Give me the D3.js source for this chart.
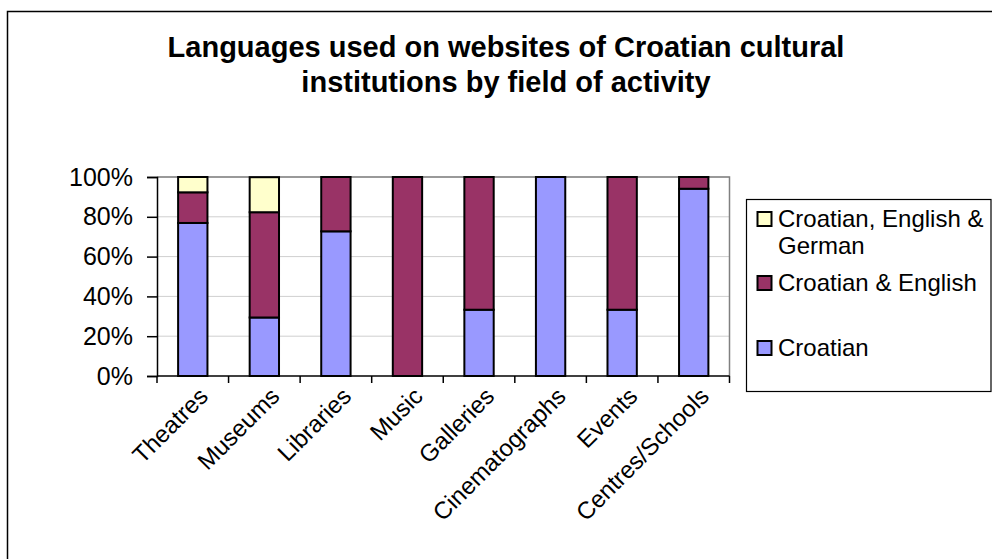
<!DOCTYPE html>
<html>
<head>
<meta charset="utf-8">
<script src="https://cdn.jsdelivr.net/npm/d3@7"></script>
<style>
  body { margin: 0; background: #fff; }
  svg { display: block; font-family: Arial, "Liberation Sans", sans-serif; }
</style>
</head>
<body>
<svg id="chart" width="992" height="559"></svg>
<script>
const categories = ["Theatres", "Museums", "Libraries", "Music", "Galleries", "Cinematographs", "Events", "Centres/Schools"];
const seriesNames = ["Croatian", "Croatian & English", "Croatian, English & German"];
const croatian = [76.9, 29.4, 72.7, 0, 33.3, 100, 33.3, 94.1];
const croatianEnglish = [15.4, 52.9, 27.3, 100, 66.7, 0, 66.7, 5.9];
const croatianEnglishGerman = [7.7, 17.6, 0, 0, 0, 0, 0, 0];
const yTicks = [0, 20, 40, 60, 80, 100];
const titleLines = ["Languages used on websites of Croatian cultural", "institutions by field of activity"];
const colors = ["#9999FF", "#993366", "#FFFFCC"];

const svg = d3.select("#chart");

// outer chart border
svg.append("rect").attr("x", 7.5).attr("y", 11.5).attr("width", 1100).attr("height", 700)
  .attr("fill", "none").attr("stroke", "#000").attr("stroke-width", 1.5);

// title
svg.append("text").attr("x", 506).attr("y", 57).attr("text-anchor", "middle")
  .attr("font-size", 29).attr("font-weight", "bold")
  .selectAll("tspan").data(titleLines).join("tspan")
  .attr("x", 506).attr("dy", (d, i) => i === 0 ? 0 : 35).text(d => d);

const plot = { left: 157, right: 729.5, top: 177, bottom: 376 };

const x = d3.scaleBand().domain(categories).range([plot.left, plot.right]).padding(0);
const y = d3.scaleLinear().domain([0, 100]).range([plot.bottom, plot.top]);

// gridlines
svg.append("g").selectAll("line").data(yTicks.filter(t => t > 0)).join("line")
  .attr("x1", plot.left).attr("x2", plot.right)
  .attr("y1", d => y(d)).attr("y2", d => y(d))
  .attr("stroke", "#cfcfcf").attr("stroke-width", 1);

// plot area border (top, right)
svg.append("path")
  .attr("d", `M${plot.left},${plot.top}H${plot.right}V${plot.bottom}`)
  .attr("fill", "none").attr("stroke", "#808080").attr("stroke-width", 1.5);

// stacked bars
const rows = categories.map((c, i) => ({
  cat: c,
  "Croatian": croatian[i],
  "Croatian & English": croatianEnglish[i],
  "Croatian, English & German": croatianEnglishGerman[i]
}));
const stacked = d3.stack().keys(seriesNames)(rows);
const barW = x.bandwidth() * 0.41;

svg.append("g").selectAll("g").data(stacked).join("g")
  .attr("fill", (d, i) => colors[i])
  .selectAll("rect").data(d => d.filter(p => p[1] - p[0] > 0)).join("rect")
  .attr("x", d => x(d.data.cat) + (x.bandwidth() - barW) / 2)
  .attr("y", d => y(d[1]))
  .attr("width", barW)
  .attr("height", d => y(d[0]) - y(d[1]))
  .attr("stroke", "#000").attr("stroke-width", 2);

// y axis
const yAxis = d3.axisLeft(y).tickValues(yTicks).tickFormat(d => d + "%").tickSize(10).tickPadding(14);
const gy = svg.append("g").attr("transform", `translate(${plot.left},0)`).call(yAxis);
gy.select(".domain").attr("stroke", "#000").attr("stroke-width", 1.5);
gy.selectAll(".tick line").attr("stroke", "#000").attr("stroke-width", 1.5);
gy.selectAll(".tick text").attr("font-size", 25).attr("font-family", "Arial, 'Liberation Sans', sans-serif").attr("fill", "#000");

// x axis with ticks at band boundaries
svg.append("line").attr("x1", plot.left).attr("x2", plot.right)
  .attr("y1", plot.bottom).attr("y2", plot.bottom)
  .attr("stroke", "#000").attr("stroke-width", 1.5);
const boundaries = categories.map(c => x(c)).concat([plot.right]);
svg.append("g").selectAll("line").data(boundaries).join("line")
  .attr("x1", d => d).attr("x2", d => d)
  .attr("y1", plot.bottom).attr("y2", plot.bottom + 7)
  .attr("stroke", "#000").attr("stroke-width", 1.5);

// x labels rotated
svg.append("g").selectAll("text").data(categories).join("text")
  .attr("transform", d => `translate(${x(d) + x.bandwidth() / 2 + 4},${plot.bottom + 9}) rotate(-45)`)
  .attr("text-anchor", "end").attr("dy", "0.75em")
  .attr("font-size", 24).attr("fill", "#000")
  .text(d => d);

// legend
svg.append("rect").attr("x", 746.5).attr("y", 199.5).attr("width", 244.5).attr("height", 192)
  .attr("fill", "#fff").attr("stroke", "#000").attr("stroke-width", 1.2);

const legendItems = [
  { name: "Croatian, English & German", lines: ["Croatian, English &", "German"], color: colors[2], sy: 212 },
  { name: "Croatian & English", lines: ["Croatian & English"], color: colors[1], sy: 276 },
  { name: "Croatian", lines: ["Croatian"], color: colors[0], sy: 341 }
];
const lg = svg.append("g").selectAll("g").data(legendItems).join("g");
lg.append("rect").attr("x", 757.5).attr("y", d => d.sy).attr("width", 14).attr("height", 14)
  .attr("fill", d => d.color).attr("stroke", "#000").attr("stroke-width", 2);
lg.append("text").attr("font-size", 24).attr("fill", "#000")
  .selectAll("tspan").data(d => d.lines.map((l, i) => ({ l, i, sy: d.sy }))).join("tspan")
  .attr("x", 778).attr("y", d => d.sy + 14.5 + d.i * 27).text(d => d.l);
</script>
</body>
</html>
